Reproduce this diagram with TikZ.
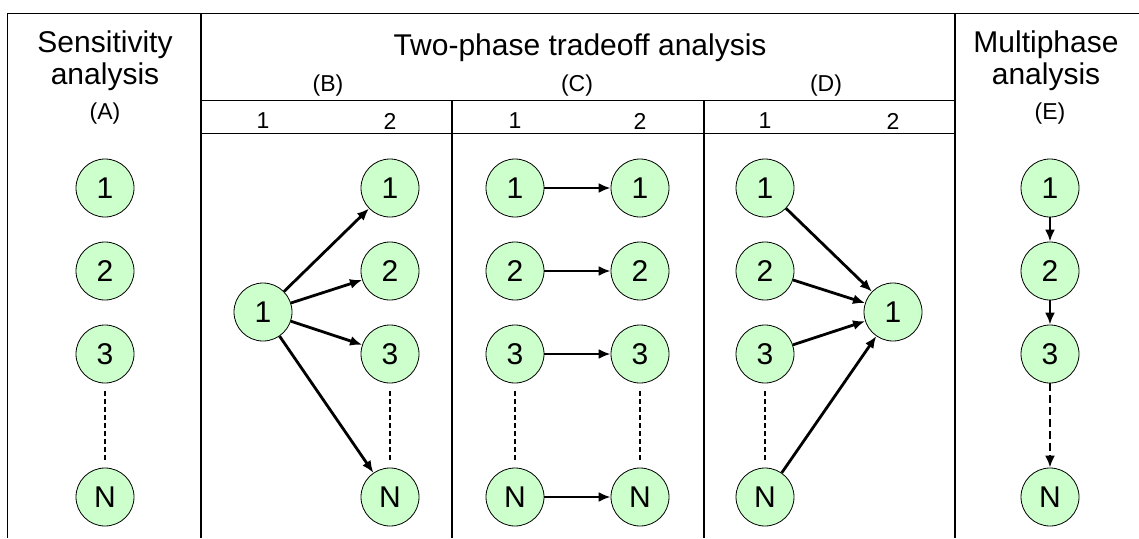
\documentclass[tikz,border=0pt]{standalone}
\usepackage{fontspec}
\setmainfont{Liberation Sans}
\usetikzlibrary{arrows.meta}
\definecolor{nodegreen}{HTML}{CCFFCC}

\begin{document}
\begin{tikzpicture}[x=1pt, y=-1pt,
  state/.style={circle, draw, line width=0.8pt, fill=nodegreen, minimum size=58pt, inner sep=0pt, font=\fontsize{30}{30}\selectfont},
  head/.style={align=center, font=\fontsize{30}{32}\selectfont},
  sub/.style={font=\fontsize{23}{24}\selectfont},
  flow/.style={-{Latex[length=12pt,width=10pt]}, line width=2.8pt},
  gap/.style={dash pattern=on 5pt off 3pt, line width=2pt, shorten <=8pt, shorten >=8pt},
  frame/.style={line width=1pt},
  divider/.style={line width=2pt}]
  \useasboundingbox (0,0) rectangle (1139,538);
  \draw[frame] (7,538) -- (7,13) -- (1139,13);
  \draw[frame] (201,100) -- (955,100);
  \draw[frame] (201,133) -- (955,133);
  \draw[divider] (201,13) -- (201,538);
  \draw[divider] (452,100) -- (452,538);
  \draw[divider] (704,100) -- (704,538);
  \draw[divider] (955,13) -- (955,538);

  \node[head] (ta) at (105,61) {Sensitivity\\analysis};
  \node[sub] (la) at (105,114) {(A)};
  \node[head] (tb) at (580,48) {Two-phase tradeoff analysis};
  \node[sub] (lb) at (328,86) {(B)};
  \node[sub] (lc) at (577,86) {(C)};
  \node[sub] (ld) at (826,86) {(D)};
  \node[sub] (pb1) at (263,121) {1};
  \node[sub] (pb2) at (390,121) {2};
  \node[sub] (pc1) at (515,121) {1};
  \node[sub] (pc2) at (640,121) {2};
  \node[sub] (pd1) at (765,121) {1};
  \node[sub] (pd2) at (893,121) {2};
  \node[head] (te) at (1046,61) {Multiphase\\analysis};
  \node[sub] (le) at (1050,114) {(E)};

  \node[state] (a1) at (105,188) {1};
  \node[state] (a2) at (105,271) {2};
  \node[state] (a3) at (105,354) {3};
  \node[state] (aN) at (105,497) {N};
  \draw[gap] (a3)--(aN);

  \node[state] (b0) at (263,312) {1};
  \node[state] (b1) at (390,188) {1};
  \node[state] (b2) at (390,271) {2};
  \node[state] (b3) at (390,354) {3};
  \node[state] (bN) at (390,497) {N};
  \draw[flow] (b0)--(b1);
  \draw[flow] (b0)--(b2);
  \draw[flow] (b0)--(b3);
  \draw[flow] (b0)--(bN);
  \draw[gap] (b3)--(bN);

  \node[state] (c1) at (515,188) {1};
  \node[state] (c2) at (515,271) {2};
  \node[state] (c3) at (515,354) {3};
  \node[state] (cN) at (515,497) {N};
  \node[state] (d1) at (640,188) {1};
  \node[state] (d2) at (640,271) {2};
  \node[state] (d3) at (640,354) {3};
  \node[state] (dN) at (640,497) {N};
  \draw[flow] (c1)--(d1);
  \draw[flow] (c2)--(d2);
  \draw[flow] (c3)--(d3);
  \draw[flow] (cN)--(dN);
  \draw[gap] (c3)--(cN);
  \draw[gap] (d3)--(dN);

  \node[state] (e1) at (765,188) {1};
  \node[state] (e2) at (765,271) {2};
  \node[state] (e3) at (765,354) {3};
  \node[state] (eN) at (765,497) {N};
  \node[state] (e0) at (893,312) {1};
  \draw[flow] (e1)--(e0);
  \draw[flow] (e2)--(e0);
  \draw[flow] (e3)--(e0);
  \draw[flow] (eN)--(e0);
  \draw[gap] (e3)--(eN);

  \node[state] (f1) at (1050,188) {1};
  \node[state] (f2) at (1050,271) {2};
  \node[state] (f3) at (1050,354) {3};
  \node[state] (fN) at (1050,497) {N};
  \draw[flow] (f1)--(f2);
  \draw[flow] (f2)--(f3);
  \draw[flow, dash pattern=on 8pt off 4pt] (f3)--(fN);
\end{tikzpicture}
\end{document}
